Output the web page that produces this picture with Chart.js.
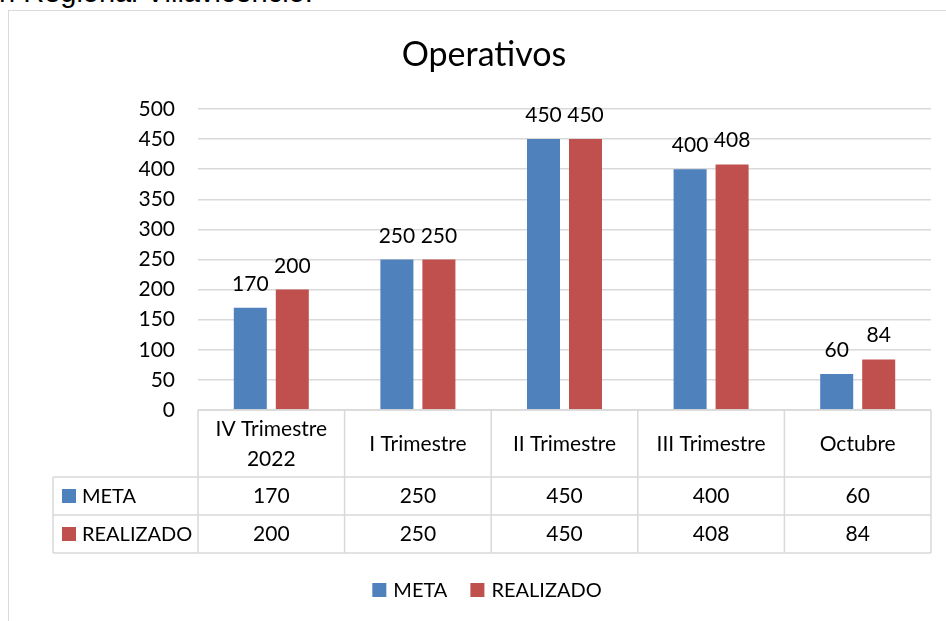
<!DOCTYPE html>
<html>
<head>
<meta charset="utf-8">
<script src="https://cdn.jsdelivr.net/npm/chart.js@4.4.0/dist/chart.umd.min.js"></script>
<style>
  html, body { margin: 0; padding: 0; background: #fff; overflow: hidden; }
  #wrap { position: relative; width: 946px; height: 621px; overflow: hidden; }
  #cut { position: absolute; left: -1px; top: -22px; font: 29px "Liberation Sans", Arial, sans-serif; line-height: 29px; color: #000; white-space: nowrap; }
  #frame { position: absolute; left: 8px; top: 10px; width: 980px; height: 660px; border-left: 1px solid #d9d9d9; border-top: 1px solid #d9d9d9; }
  canvas { position: absolute; left: 0; top: 0; }
</style>
</head>
<body>
<div id="wrap">
  <div id="cut">n Regional Villavicencio.</div>
  <div id="frame"></div>
  <canvas id="chart" width="946" height="621"></canvas>
</div>
<script>
// Chart data
const chartTitle = 'Operativos';
const categories = [['IV Trimestre', '2022'], 'I Trimestre', 'II Trimestre', 'III Trimestre', 'Octubre'];
const metaValues = [170, 250, 450, 400, 60];
const realizadoValues = [200, 250, 450, 408, 84];
const seriesNames = ['META', 'REALIZADO'];
const seriesColors = ['#4F81BD', '#C0504D'];
const yTicks = [0, 50, 100, 150, 200, 250, 300, 350, 400, 450, 500];

const FONT = 'Lato';
const FS = 21;
const GRID = '#d9d9d9';

Chart.defaults.font.family = FONT;
Chart.defaults.color = '#000';

// Value labels above each bar
const barLabels = {
    id: 'barLabels',
    afterDatasetsDraw(chart) {
        const { ctx } = chart;
        ctx.save();
        ctx.font = `${FS}px ${FONT}`;
        ctx.fillStyle = '#000';
        ctx.textAlign = 'center';
        ctx.textBaseline = 'alphabetic';
        chart.data.datasets.forEach((ds, di) => {
            chart.getDatasetMeta(di).data.forEach((bar, i) => {
                ctx.fillText(String(ds.data[i]), bar.x, bar.y - 17);
            });
        });
        ctx.restore();
    }
};

// Title, data table under the plot (aligned with the category scale) and legend
const dataTable = {
    id: 'dataTable',
    afterDraw(chart) {
        const { ctx, chartArea, scales: { x } } = chart;
        const colW = x.getPixelForValue(1) - x.getPixelForValue(0);
        const top = chartArea.bottom;
        const headBottom = top + 67;
        const rowH = 38;
        const tableBottom = headBottom + rowH * 2;
        const left = 53;

        ctx.save();
        ctx.fillStyle = '#000';
        ctx.textBaseline = 'alphabetic';
        ctx.textAlign = 'center';
        ctx.font = `34px ${FONT}`;
        ctx.fillText(chartTitle, 484, 66);

        ctx.strokeStyle = GRID;
        ctx.lineWidth = 1.5;
        ctx.beginPath();
        ctx.moveTo(chartArea.left, top); ctx.lineTo(chartArea.right, top);
        [headBottom, headBottom + rowH, tableBottom].forEach(y => {
            ctx.moveTo(left, y); ctx.lineTo(chartArea.right, y);
        });
        for (let i = 0; i <= categories.length; i++) {
            const bx = x.getPixelForValue(0) - colW / 2 + i * colW;
            ctx.moveTo(bx, top); ctx.lineTo(bx, tableBottom);
        }
        ctx.moveTo(left, headBottom); ctx.lineTo(left, tableBottom);
        ctx.stroke();

        ctx.font = `${FS}px ${FONT}`;

        // header row
        categories.forEach((c, i) => {
            const cx = x.getPixelForValue(i);
            if (Array.isArray(c)) {
                ctx.fillText(c[0], cx, top + 26);
                ctx.fillText(c[1], cx, top + 56);
            } else {
                ctx.fillText(c, cx, top + 41);
            }
        });

        // series rows
        chart.data.datasets.forEach((ds, di) => {
            const base = headBottom + rowH * di + 26;
            ctx.fillStyle = seriesColors[di];
            ctx.fillRect(62, base - 14, 14, 14);
            ctx.fillStyle = '#000';
            ctx.textAlign = 'left';
            ctx.font = `20px ${FONT}`;
            ctx.fillText(seriesNames[di], 82, base);
            ctx.font = `${FS}px ${FONT}`;
            ctx.textAlign = 'center';
            ds.data.forEach((v, i) => ctx.fillText(String(v), x.getPixelForValue(i), base));
        });

        // legend
        ctx.font = `20px ${FONT}`;
        ctx.textAlign = 'left';
        const widths = seriesNames.map(n => ctx.measureText(n).width);
        const total = widths.reduce((a, w) => a + 14 + 7 + w, 0) + 23;
        let lx = 487 - total / 2;
        const ly = 597;
        seriesNames.forEach((n, i) => {
            ctx.fillStyle = seriesColors[i];
            ctx.fillRect(lx, ly - 14, 14, 14);
            ctx.fillStyle = '#000';
            ctx.fillText(n, lx + 21, ly);
            lx += 21 + widths[i] + 23;
        });
        ctx.restore();
    }
};

new Chart(document.getElementById('chart'), {
    type: 'bar',
    data: {
        labels: categories,
        datasets: [
            { label: seriesNames[0], data: metaValues, backgroundColor: seriesColors[0], categoryPercentage: 0.573, barPercentage: 0.786 },
            { label: seriesNames[1], data: realizadoValues, backgroundColor: seriesColors[1], categoryPercentage: 0.573, barPercentage: 0.786 }
        ]
    },
    options: {
        responsive: false,
        animation: false,
        layout: { padding: { left: 0, right: 15, top: 109, bottom: 10 } },
        plugins: {
            title: { display: false },
            legend: { display: false },
            tooltip: { enabled: false }
        },
        scales: {
            x: {
                grid: { display: false },
                border: { display: false },
                ticks: { display: false },
                afterFit: s => { s.height = 201; }
            },
            y: {
                min: 0,
                max: 500,
                afterBuildTicks: s => { s.ticks = yTicks.map(v => ({ value: v })); },
                afterFit: s => { s.width = 198; },
                grid: { color: GRID, lineWidth: 1.5, drawTicks: false },
                border: { display: false },
                ticks: { padding: 23, font: { size: FS }, color: '#000' }
            }
        }
    },
    plugins: [barLabels, dataTable]
});
</script>
</body>
</html>
